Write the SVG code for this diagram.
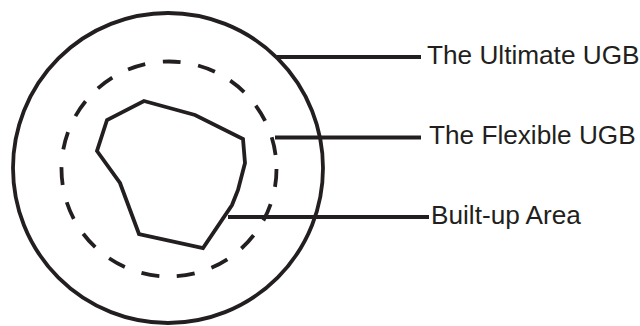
<svg xmlns="http://www.w3.org/2000/svg" width="640" height="326" viewBox="0 0 640 326">
<style>
.s{fill:none;stroke:#231f20;stroke-width:3.8;stroke-linejoin:miter}
.d{stroke-dasharray:18 17.7}
.t{font-family:"Liberation Sans",Arial,sans-serif;font-size:26.2px;fill:#231f20}
</style>
<rect width="640" height="326" fill="#fff"/>
<g id="ultimate"><circle class="s" cx="168" cy="168" r="155"/><text class="t" x="427" y="63.5">The Ultimate UGB</text></g>
<g id="flexible"><circle class="s d" cx="169" cy="169" r="107.5"/><text class="t" x="429" y="143.5">The Flexible UGB</text></g>
<g id="builtup"><polygon class="s" points="144,101 195,115 243,139 245,163 238,190 232,205 203,248 139,234 120,183 97,151 107,120"/><text class="t" x="431" y="223.5">Built-up Area</text></g>
<g id="connectors" class="s">
<line x1="277" y1="57" x2="421" y2="57"/>
<line x1="275" y1="137.5" x2="421" y2="137.5"/>
<line x1="228" y1="217" x2="429" y2="217"/>
</g>
</svg>
